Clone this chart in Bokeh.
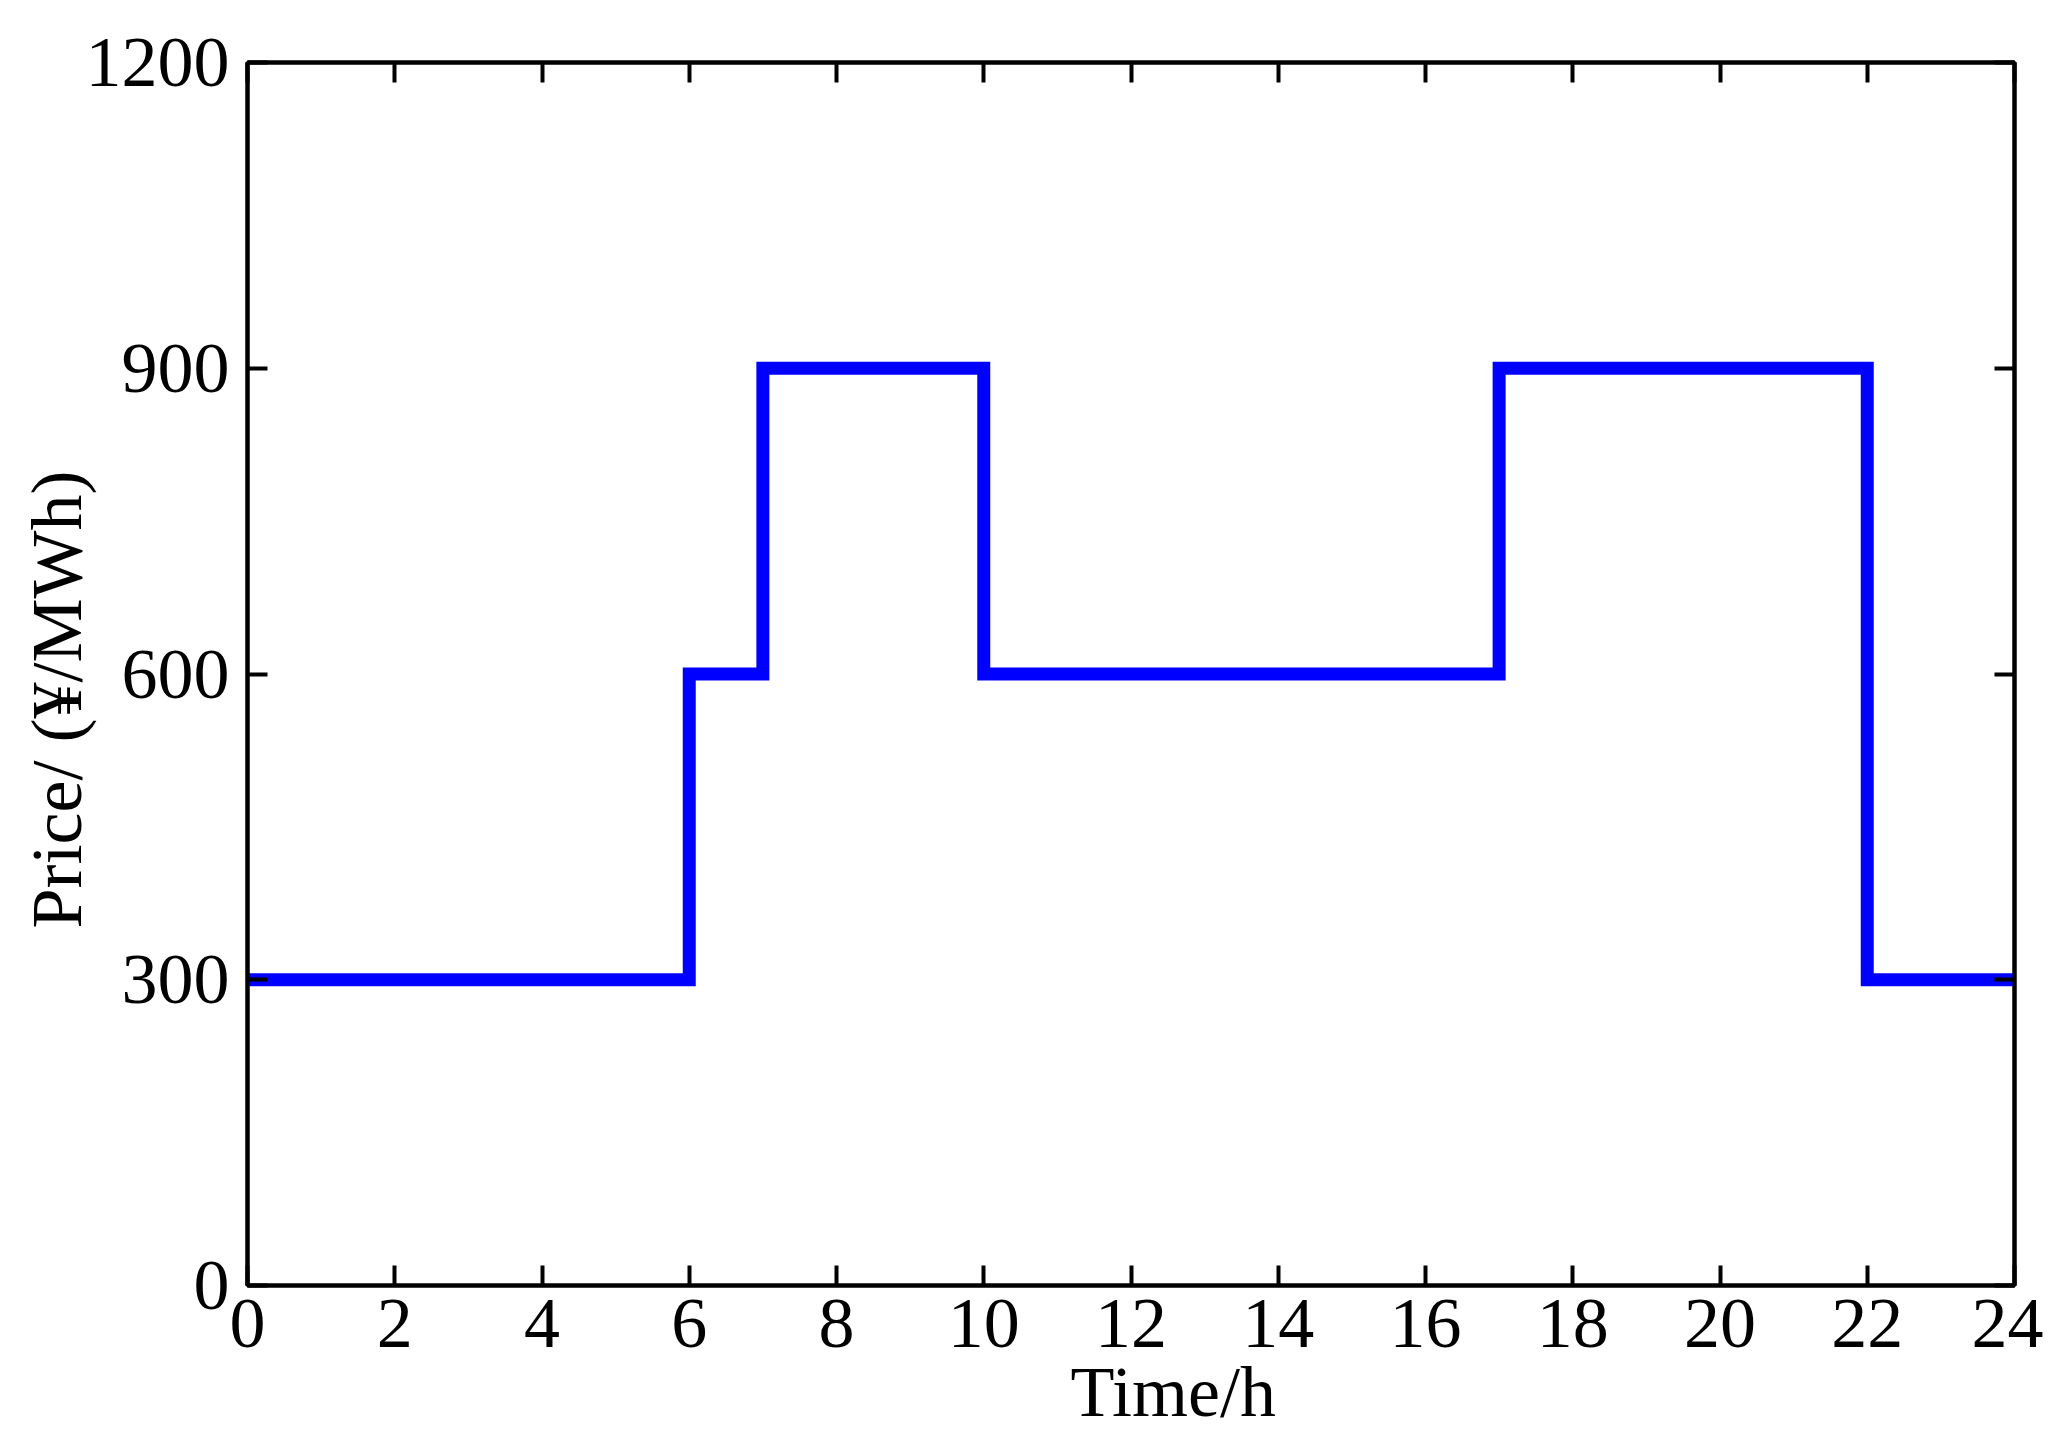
from bokeh.plotting import figure
from bokeh.models import LinearAxis, FixedTicker, Range1d, Title
from bokeh.embed import file_html
from bokeh.resources import INLINE

# Data: time-of-use price steps
step_start = [0, 6, 7, 10, 17, 22]
step_end = [6, 7, 10, 17, 22, 24]
step_price = [300, 600, 900, 600, 900, 300]

x_ticks = [0, 2, 4, 6, 8, 10, 12, 14, 16, 18, 20, 22, 24]
y_ticks = [0, 300, 600, 900, 1200]

# Build the step path from the arrays
xs, ys = [], []
for s, e, v in zip(step_start, step_end, step_price):
    xs += [s, e]
    ys += [v, v]

FONT = "Liberation Serif"
FS = "72px"

p = figure(width=2043, height=1439, output_backend="svg", toolbar_location=None,
           x_range=Range1d(0, 24), y_range=Range1d(0, 1200),
           min_border_left=247, min_border_right=29, min_border_top=62, min_border_bottom=154)
p.background_fill_color = "white"
p.border_fill_color = "white"
p.grid.visible = False
p.outline_line_color = "black"
p.outline_line_width = 4

p.line(xs, ys, line_color="#0000ff", line_width=13, line_cap="round", line_join="miter")

def style(ax, labels=True):
    ax.axis_line_width = 4
    ax.axis_line_color = "black"
    ax.major_tick_in = 20
    ax.major_tick_out = 0
    ax.major_tick_line_width = 4
    ax.minor_tick_line_color = None
    ax.major_label_text_font = FONT
    ax.major_label_text_font_size = FS
    ax.major_label_text_color = "black"
    ax.axis_label_text_font = FONT
    ax.axis_label_text_font_size = FS
    ax.axis_label_text_font_style = "normal"
    ax.axis_label_text_color = "black"
    if not labels:
        ax.major_label_text_font_size = "0px"
        ax.major_label_text_color = None

p.xaxis.ticker = FixedTicker(ticks=x_ticks)
p.yaxis.ticker = FixedTicker(ticks=y_ticks)
style(p.xaxis[0])
style(p.yaxis[0])
p.xaxis.major_label_standoff = 14
p.yaxis.major_label_standoff = 18

# axis titles, placed off-centre as in the original
xtitle = Title(text="Time/h", align="left", offset=823, standoff=0,
               text_font=FONT, text_font_size=FS, text_font_style="normal",
               text_color="black")
p.add_layout(xtitle, "below")

ytitle = Title(text="Price/ (¥/MWh)", align="left", offset=357, standoff=-29,
               text_font=FONT, text_font_size=FS, text_font_style="normal",
               text_color="black")
p.add_layout(ytitle, "left")

top = LinearAxis(ticker=FixedTicker(ticks=x_ticks))
style(top, labels=False)
right = LinearAxis(ticker=FixedTicker(ticks=y_ticks))
style(right, labels=False)
p.add_layout(top, "above")
p.add_layout(right, "right")

p.min_border_top = 62
p.min_border_right = 29

open("out.html", "w").write(file_html(p, INLINE))
